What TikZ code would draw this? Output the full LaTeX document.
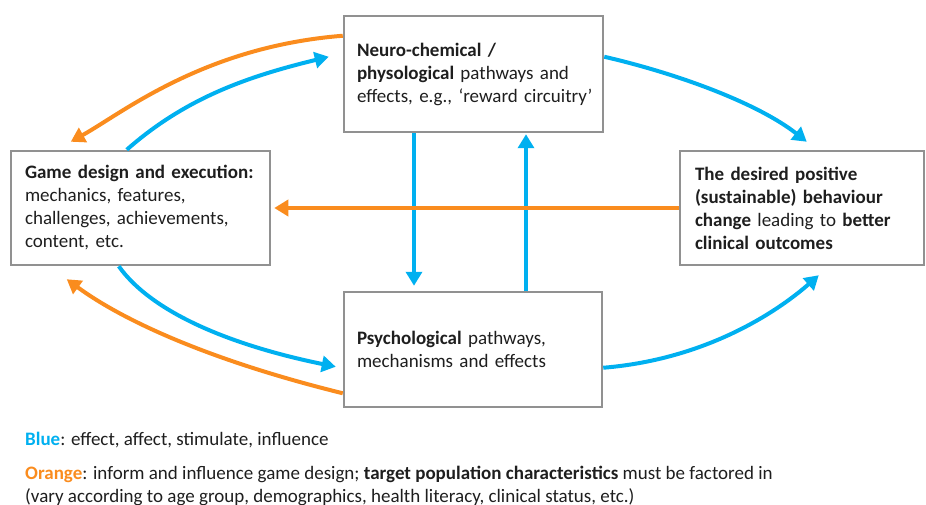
\documentclass[tikz,border=0pt]{standalone}
\usepackage{fontspec}
\setmainfont{Carlito}
\usetikzlibrary{arrows.meta}
\definecolor{cblue}{RGB}{0,176,240}
\definecolor{corange}{RGB}{250,140,30}
\definecolor{cgray}{RGB}{145,145,145}
\definecolor{ctext}{RGB}{30,30,30}
\hyphenpenalty=10000
\exhyphenpenalty=10000
\begin{document}
\begin{tikzpicture}[x=1pt,y=1pt,
  box/.style={draw=cgray, line width=2.5pt, align=left, inner ysep=0pt,
    font=\fontsize{19}{23}\selectfont, text=ctext},
  legend/.style={inner sep=0pt, font=\fontsize{19}{23}\selectfont, text=ctext},
  barrow/.style={draw=cblue, line width=4pt, -{Triangle[length=14pt,width=16pt]}},
  oarrow/.style={draw=corange, line width=4pt, -{Triangle[length=14pt,width=16pt]}}]
\useasboundingbox (0,0) rectangle (926,-505);

\node[box, minimum width=259pt, minimum height=116pt, text width=233pt, inner xsep=13pt] (neuro) at (473.5,-74)
  {\textbf{Neuro-chemical /}\\ \textbf{physological} pathways and\\ \mbox{effects, e.g., ‘reward circuitry’}};
\node[box, minimum width=259pt, minimum height=114pt, text width=231pt, inner xsep=14pt] (game) at (140.5,-208)
  {\textbf{Game design and execution:}\\ mechanics, features,\\ challenges, achievements,\\ content, etc.};
\node[box, minimum width=244pt, minimum height=114pt, text width=214pt, inner xsep=15pt] (desired) at (802,-208)
  {\textbf{The desired positive}\\ \textbf{(sustainable) behaviour}\\ \textbf{change} leading to \textbf{better}\\ \textbf{clinical outcomes}};
\node[box, minimum width=258pt, minimum height=115pt, text width=232pt, inner xsep=13pt] (psych) at (473,-349.5)
  {\textbf{Psychological} pathways,\\ mechanisms and effects};

\node[legend, anchor=base west] (lblue) at (25,-445)
  {\textcolor{cblue}{\textbf{Blue}}: effect, affect, stimulate, influence};
\node[legend, anchor=base west] (lorange) at (25,-479)
  {\textcolor{corange}{\textbf{Orange}}: inform and influence game design; \textbf{target population characteristics} must be factored in};
\node[legend, anchor=base west] (lvary) at (25,-502)
  {(vary according to age group, demographics, health literacy, clinical status, etc.)};

% top-left pair
\draw[oarrow] ([yshift=-21pt]neuro.north west) .. controls +(-139,-11) and +(52,29) .. ([xshift=61pt,yshift=8pt]game.north west);
\draw[barrow] ([xshift=117pt]game.north west) .. controls +(60,53) and +(-78,-19) .. ([xshift=-14pt,yshift=-42pt]neuro.north west);
% top-right
\draw[barrow] ([yshift=-42pt]neuro.north east) .. controls +(78,-18) and +(-47,37) .. ([xshift=128pt,yshift=8pt]desired.north west);
% verticals
\draw[barrow] ([xshift=-59.5pt]neuro.south) -- ([xshift=-59pt,yshift=5pt]psych.north);
\draw[barrow] ([xshift=53pt]psych.north) -- ([xshift=52.5pt,yshift=-1pt]neuro.south);
% horizontal
\draw[oarrow] (desired.west) -- ([xshift=3pt]game.east);
% bottom-left pair
\draw[barrow] ([xshift=109pt]game.south west) .. controls +(35,-49) and +(-98,20) .. ([xshift=-7pt,yshift=-76pt]psych.north west);
\draw[oarrow] ([yshift=15pt]psych.south west) .. controls +(-126,31) and +(60,-44) .. ([xshift=57pt,yshift=-13pt]game.south west);
% bottom-right
\draw[barrow] ([yshift=-77pt]psych.north east) .. controls +(110,9) and +(-34,-30) .. ([xshift=140pt,yshift=-9pt]desired.south west);
\end{tikzpicture}
\end{document}
